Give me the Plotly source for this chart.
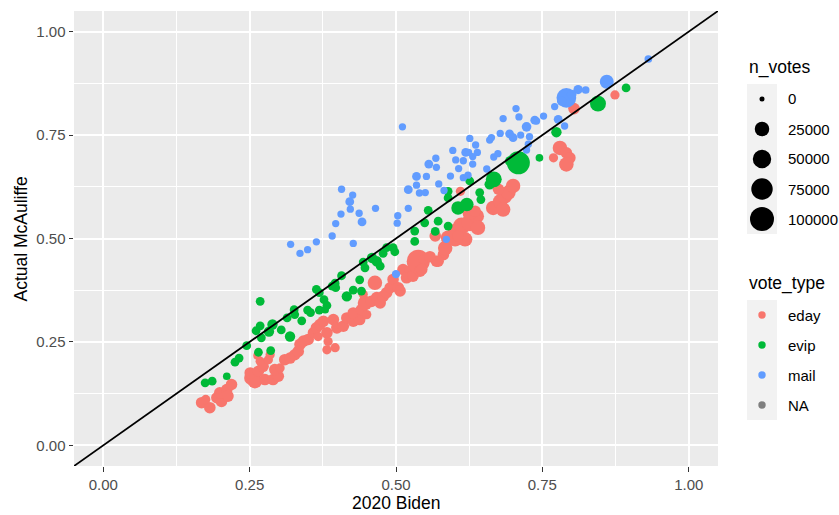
import math
import plotly.graph_objects as go

# ---------------- data ----------------
eday_x = [0.168, 0.182, 0.175, 0.194, 0.202, 0.199, 0.211, 0.219, 0.213, 0.253,
          0.259, 0.251, 0.265, 0.273, 0.268, 0.282, 0.285, 0.276, 0.290, 0.299,
          0.293, 0.302, 0.263, 0.310, 0.319, 0.327, 0.333, 0.336, 0.342, 0.350,
          0.359, 0.364, 0.370, 0.376, 0.382, 0.382, 0.384, 0.367, 0.393, 0.399,
          0.396, 0.410, 0.416, 0.427, 0.438, 0.427, 0.441, 0.447, 0.458, 0.467,
          0.473, 0.478, 0.484, 0.444, 0.450, 0.490, 0.464, 0.495, 0.504, 0.507,
          0.512, 0.524, 0.518, 0.529, 0.538, 0.541, 0.569, 0.581, 0.584, 0.589,
          0.601, 0.567, 0.572, 0.547, 0.544, 0.601, 0.612, 0.626, 0.638, 0.640,
          0.618, 0.606, 0.626, 0.635, 0.610, 0.666, 0.678, 0.686, 0.692, 0.700,
          0.675, 0.683, 0.780, 0.791, 0.797, 0.791, 0.769, 0.804, 0.874, 0.558]
eday_y = [0.103, 0.091, 0.111, 0.115, 0.106, 0.127, 0.135, 0.147, 0.119, 0.163,
          0.155, 0.175, 0.179, 0.191, 0.203, 0.207, 0.219, 0.159, 0.159, 0.167,
          0.183, 0.187, 0.217, 0.207, 0.211, 0.219, 0.227, 0.244, 0.252, 0.256,
          0.272, 0.284, 0.292, 0.300, 0.272, 0.231, 0.251, 0.263, 0.304, 0.284,
          0.236, 0.288, 0.308, 0.300, 0.304, 0.320, 0.328, 0.344, 0.348, 0.357,
          0.344, 0.360, 0.369, 0.365, 0.316, 0.381, 0.393, 0.401, 0.381, 0.373,
          0.425, 0.421, 0.405, 0.409, 0.445, 0.421, 0.445, 0.461, 0.477, 0.502,
          0.498, 0.506, 0.445, 0.449, 0.425, 0.518, 0.530, 0.538, 0.554, 0.526,
          0.498, 0.506, 0.562, 0.566, 0.614, 0.574, 0.590, 0.602, 0.611, 0.627,
          0.619, 0.570, 0.719, 0.707, 0.695, 0.679, 0.695, 0.814, 0.847, 0.456]
eday_n = [12000, 12000, 5000, 12000, 12000, 12000, 12000, 12000, 12000, 25000,
          25000, 12000, 12000, 12000, 5000, 5000, 5000, 12000, 12000, 12000,
          12000, 5000, 2500, 12000, 12000, 12000, 12000, 12000, 12000, 12000,
          12000, 12000, 12000, 12000, 12000, 5000, 5000, 5000, 12000, 12000,
          5000, 12000, 12000, 12000, 12000, 12000, 12000, 25000, 12000, 12000,
          12000, 12000, 12000, 5000, 5000, 12000, 25000, 12000, 12000, 12000,
          12000, 12000, 12000, 12000, 90000, 12000, 12000, 12000, 25000, 25000,
          25000, 12000, 12000, 5000, 12000, 25000, 40000, 40000, 25000, 25000,
          25000, 12000, 25000, 12000, 5000, 25000, 25000, 25000, 25000, 25000,
          12000, 25000, 25000, 12000, 12000, 25000, 5000, 12000, 5000, 12000]

evip_x = [0.174, 0.186, 0.211, 0.225, 0.232, 0.245, 0.265, 0.286, 0.268, 0.261,
          0.268, 0.270, 0.283, 0.289, 0.304, 0.319, 0.314, 0.326, 0.327, 0.339,
          0.349, 0.354, 0.369, 0.364, 0.369, 0.377, 0.382, 0.379, 0.391, 0.397,
          0.396, 0.407, 0.416, 0.427, 0.438, 0.441, 0.444, 0.447, 0.459, 0.467,
          0.473, 0.478, 0.484, 0.498, 0.495, 0.532, 0.532, 0.567, 0.555, 0.549,
          0.572, 0.589, 0.589, 0.589, 0.606, 0.621, 0.626, 0.643, 0.645, 0.667,
          0.660, 0.695, 0.709, 0.745, 0.774, 0.845, 0.893]
evip_y = [0.151, 0.155, 0.167, 0.201, 0.211, 0.241, 0.225, 0.229, 0.348, 0.277,
          0.289, 0.260, 0.275, 0.292, 0.279, 0.263, 0.308, 0.328, 0.316, 0.301,
          0.327, 0.321, 0.327, 0.377, 0.369, 0.352, 0.338, 0.328, 0.385, 0.381,
          0.392, 0.410, 0.360, 0.375, 0.400, 0.373, 0.443, 0.429, 0.453, 0.445,
          0.433, 0.464, 0.478, 0.468, 0.478, 0.518, 0.493, 0.517, 0.568, 0.538,
          0.542, 0.530, 0.614, 0.598, 0.574, 0.582, 0.639, 0.611, 0.594, 0.643,
          0.631, 0.687, 0.683, 0.695, 0.757, 0.826, 0.864]
evip_n = [4000, 4000, 2000, 4000, 4000, 4000, 4000, 4000, 4000, 4000,
          4000, 4000, 8000, 8000, 4000, 8000, 4000, 4000, 4000, 4000,
          4000, 4000, 4000, 4000, 4000, 4000, 4000, 2000, 4000, 4000,
          4000, 4000, 8000, 4000, 4000, 4000, 4000, 4000, 8000, 8000,
          4000, 4000, 4000, 4000, 4000, 4000, 4000, 4000, 4000, 4000,
          4000, 4000, 4000, 4000, 20000, 20000, 4000, 4000, 4000, 33000,
          8000, 8000, 90000, 2000, 8000, 33000, 4000]

mail_x = [0.511, 0.320, 0.336, 0.349, 0.364, 0.391, 0.397, 0.406, 0.422, 0.437,
          0.442, 0.407, 0.426, 0.421, 0.427, 0.465, 0.503, 0.502, 0.521, 0.521,
          0.535, 0.535, 0.552, 0.540, 0.550, 0.573, 0.556, 0.568, 0.569, 0.597,
          0.593, 0.582, 0.602, 0.607, 0.615, 0.619, 0.624, 0.615, 0.623, 0.626,
          0.636, 0.631, 0.631, 0.639, 0.655, 0.660, 0.663, 0.667, 0.678, 0.674,
          0.683, 0.705, 0.710, 0.694, 0.700, 0.713, 0.723, 0.737, 0.740, 0.752,
          0.728, 0.726, 0.723, 0.771, 0.777, 0.788, 0.791, 0.811, 0.824, 0.860,
          0.931, 0.586, 0.500, 0.783, 0.800]
mail_y = [0.770, 0.486, 0.464, 0.473, 0.492, 0.506, 0.536, 0.559, 0.571, 0.561,
          0.540, 0.619, 0.605, 0.589, 0.488, 0.573, 0.555, 0.537, 0.573, 0.618,
          0.629, 0.650, 0.650, 0.610, 0.611, 0.632, 0.680, 0.694, 0.672, 0.713,
          0.651, 0.616, 0.690, 0.669, 0.688, 0.708, 0.708, 0.647, 0.653, 0.742,
          0.726, 0.698, 0.680, 0.708, 0.668, 0.738, 0.744, 0.697, 0.754, 0.705,
          0.790, 0.814, 0.794, 0.753, 0.744, 0.750, 0.770, 0.786, 0.784, 0.796,
          0.746, 0.728, 0.714, 0.819, 0.788, 0.772, 0.840, 0.860, 0.859, 0.879,
          0.934, 0.498, 0.414, 0.832, 0.848]
mail_n = [1500, 1500, 1500, 1500, 1500, 1500, 1500, 1500, 1500, 1500,
          4000, 1500, 1500, 4000, 1500, 1500, 1500, 1500, 1500, 4000,
          1500, 4000, 1500, 1500, 1500, 1500, 4000, 1500, 1500, 1500,
          1500, 1500, 1500, 1500, 1500, 4000, 1500, 1500, 1500, 1500,
          1500, 1500, 1500, 1500, 1500, 1500, 1500, 1500, 1500, 1500,
          1500, 1500, 1500, 4000, 4000, 1500, 6000, 4000, 1500, 1500,
          1500, 1500, 1500, 1500, 4000, 1500, 60000, 5000, 2000, 22000,
          2000, 1500, 3000, 5000, 6000]

vote_types = ["eday", "evip", "mail", "NA"]
vote_colors = ["#F8766D", "#00BA38", "#619CFF", "#7F7F7F"]
size_breaks = [0, 25000, 50000, 75000, 100000]
size_labels = ["0", "25000", "50000", "75000", "100000"]

AX_RANGE = [-0.05, 1.05]
TICK_VALS = [0.0, 0.25, 0.5, 0.75, 1.0]
TICK_TEXT = ["0.00", "0.25", "0.50", "0.75", "1.00"]
MINOR_VALS = [0.125, 0.375, 0.625, 0.875]
AB_INTERCEPT = 0.0
AB_SLOPE = 1.0

# ---------------- styling ----------------
FONT = "Liberation Sans, Arial, Helvetica, sans-serif"
TITLE_SIZE = 17.5
TEXT_SIZE = 15
SIZE_MIN, SIZE_MAX, N_MAX = 5.0, 24.0, 100000.0
W, H = 839, 515
ML, MR, MT, MB = 74, 121, 11, 49
PW, PH = W - ML - MR, H - MT - MB


def diam(n):
    return SIZE_MIN + (SIZE_MAX - SIZE_MIN) * math.sqrt(max(n, 0) / N_MAX)


def px(xp):
    return (xp - ML) / PW


def py(yp):
    return (H - MB - yp) / PH


fig = go.Figure()
groups = [(eday_x, eday_y, eday_n, vote_colors[0], vote_types[0]),
          (evip_x, evip_y, evip_n, vote_colors[1], vote_types[1]),
          (mail_x, mail_y, mail_n, vote_colors[2], vote_types[2])]
for xs, ys, ns, col, nm in groups:
    fig.add_trace(go.Scatter(
        x=xs, y=ys, mode="markers", name=nm,
        marker=dict(size=[diam(n) for n in ns], sizemode="diameter",
                    color=col, opacity=1, line=dict(width=0)),
        showlegend=False))

fig.add_trace(go.Scatter(
    x=AX_RANGE, y=[AB_INTERCEPT + AB_SLOPE * v for v in AX_RANGE],
    mode="lines", line=dict(color="black", width=1.8), showlegend=False,
    hoverinfo="skip"))

axis_common = dict(
    range=AX_RANGE, tickmode="array", tickvals=TICK_VALS, ticktext=TICK_TEXT,
    ticks="outside", ticklen=4.5, tickwidth=1.3, tickcolor="#333333",
    showgrid=True, gridcolor="white", gridwidth=2.2, zeroline=False,
    showline=False, tickfont=dict(family=FONT, size=TEXT_SIZE, color="#4D4D4D"),
    minor=dict(tickmode="array", tickvals=MINOR_VALS, showgrid=True,
               gridcolor="white", gridwidth=1.1, ticks=""),
    fixedrange=True)
fig.update_xaxes(**axis_common)
fig.update_yaxes(**axis_common)

shapes = []
annotations = []

# axis titles
annotations.append(dict(text="2020 Biden", xref="paper", yref="paper",
                        x=0.5, y=py(503), xanchor="center", yanchor="middle",
                        showarrow=False, font=dict(family=FONT, size=TITLE_SIZE, color="black")))
annotations.append(dict(text="Actual McAuliffe", xref="paper", yref="paper",
                        x=px(20), y=0.5, xanchor="center", yanchor="middle",
                        textangle=-90, showarrow=False,
                        font=dict(family=FONT, size=TITLE_SIZE, color="black")))

KEY_L, KEY_W, KEY_H = 747, 30, 30
KEY_CX = KEY_L + KEY_W / 2
LABEL_X = 786

# n_votes legend
annotations.append(dict(text="n_votes", xref="paper", yref="paper", x=px(KEY_L), y=py(67),
                        xanchor="left", yanchor="middle", showarrow=False,
                        font=dict(family=FONT, size=TITLE_SIZE, color="black")))
top = 84
shapes.append(dict(type="rect", xref="paper", yref="paper", x0=px(KEY_L), x1=px(KEY_L + KEY_W),
                   y0=py(top), y1=py(top + KEY_H * len(size_breaks)),
                   fillcolor="#F2F2F2", line=dict(width=0), layer="above"))
for i, (b, lab) in enumerate(zip(size_breaks, size_labels)):
    cy = top + KEY_H * i + KEY_H / 2
    r = diam(b) / 2
    shapes.append(dict(type="circle", xref="paper", yref="paper",
                       xsizemode="pixel", ysizemode="pixel",
                       xanchor=px(KEY_CX), yanchor=py(cy),
                       x0=-r, x1=r, y0=-r, y1=r,
                       fillcolor="black", line=dict(width=0), layer="above"))
    annotations.append(dict(text=lab, xref="paper", yref="paper", x=px(LABEL_X), y=py(cy),
                            xanchor="left", yanchor="middle", showarrow=False,
                            font=dict(family=FONT, size=TEXT_SIZE, color="black")))

# vote_type legend
annotations.append(dict(text="vote_type", xref="paper", yref="paper", x=px(KEY_L), y=py(283),
                        xanchor="left", yanchor="middle", showarrow=False,
                        font=dict(family=FONT, size=TITLE_SIZE, color="black")))
top2 = 300
shapes.append(dict(type="rect", xref="paper", yref="paper", x0=px(KEY_L), x1=px(KEY_L + KEY_W),
                   y0=py(top2), y1=py(top2 + KEY_H * len(vote_types)),
                   fillcolor="#F2F2F2", line=dict(width=0), layer="above"))
for i, (nm, col) in enumerate(zip(vote_types, vote_colors)):
    cy = top2 + KEY_H * i + KEY_H / 2
    r = 3.7
    shapes.append(dict(type="circle", xref="paper", yref="paper",
                       xsizemode="pixel", ysizemode="pixel",
                       xanchor=px(KEY_CX), yanchor=py(cy),
                       x0=-r, x1=r, y0=-r, y1=r,
                       fillcolor=col, line=dict(width=0), layer="above"))
    annotations.append(dict(text=nm, xref="paper", yref="paper", x=px(LABEL_X), y=py(cy),
                            xanchor="left", yanchor="middle", showarrow=False,
                            font=dict(family=FONT, size=TEXT_SIZE, color="black")))

fig.update_layout(
    width=W, height=H, margin=dict(l=ML, r=MR, t=MT, b=MB, pad=0),
    paper_bgcolor="white", plot_bgcolor="#EBEBEB",
    font=dict(family=FONT, size=TEXT_SIZE, color="#4D4D4D"),
    showlegend=False, shapes=shapes, annotations=annotations,
    hovermode="closest")

fig.write_html("out.html", config={"displayModeBar": False},
               post_script="document.body.style.margin='0';document.body.style.padding='0';")
